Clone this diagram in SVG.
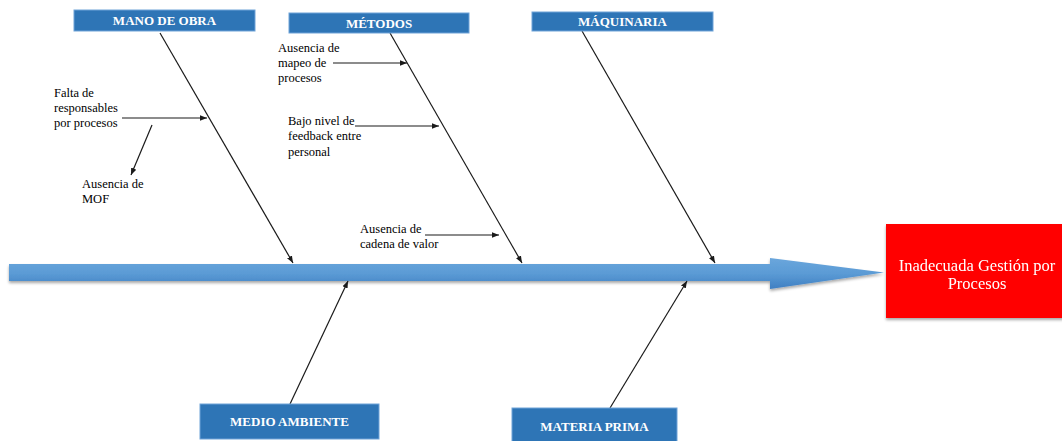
<svg xmlns="http://www.w3.org/2000/svg" width="1062" height="441" viewBox="0 0 1062 441">
  <style>
    .cat rect { fill: #2e75b6; stroke: #6fa3d8; stroke-width: 1; }
    .cat text { font-family: "Liberation Serif", "Times New Roman", serif; font-weight: bold; font-size: 13px; fill: #ffffff; text-anchor: middle; }
    .sub { font-family: "Liberation Serif", "Times New Roman", serif; font-size: 12.5px; fill: #000000; }
    .bone { stroke: #1a1a1a; stroke-width: 1.2; fill: none; marker-end: url(#tip); }
    .effect text { font-family: "Liberation Serif", "Times New Roman", serif; font-size: 16.5px; fill: #ffffff; text-anchor: middle; }
  </style>
  <defs>
    <marker id="tip" viewBox="0 0 10 10" refX="10" refY="5" markerWidth="7" markerHeight="7" orient="auto" markerUnits="userSpaceOnUse">
      <path d="M0,1 L10,5 L0,9 Z" fill="#1a1a1a"/>
    </marker>
    <linearGradient id="spineFill" x1="0" y1="0" x2="0" y2="1">
      <stop offset="0" stop-color="#6aa6dc"/>
      <stop offset="0.5" stop-color="#5b9bd5"/>
      <stop offset="1" stop-color="#3f7fc2"/>
    </linearGradient>
    <filter id="soft" x="-5%" y="-20%" width="110%" height="160%">
      <feGaussianBlur in="SourceAlpha" stdDeviation="1.5"/>
      <feOffset dx="0" dy="2" result="b"/>
      <feComponentTransfer><feFuncA type="linear" slope="0.35"/></feComponentTransfer>
      <feMerge><feMergeNode/><feMergeNode in="SourceGraphic"/></feMerge>
    </filter>
  </defs>

  <rect width="1062" height="441" fill="#ffffff"/>

  <!-- main spine -->
  <g id="spine" filter="url(#soft)">
    <path d="M9,264 L770,264 L770,258 L884,272.5 L770,289 L770,281 L9,281 Z" fill="url(#spineFill)"/>
  </g>

  <!-- effect -->
  <g id="effect" class="effect" filter="url(#soft)">
    <rect x="886" y="224" width="178" height="94" fill="#ff0000"/>
    <text x="977" y="271">Inadecuada Gestión por</text>
    <text x="977" y="289">Procesos</text>
  </g>

  <!-- connectors -->
  <g id="connectors">
    <line class="bone" x1="160" y1="33" x2="293" y2="263"/>
    <line class="bone" x1="390" y1="33" x2="522" y2="263"/>
    <line class="bone" x1="582" y1="31" x2="715" y2="263"/>
    <line class="bone" x1="290" y1="404" x2="348" y2="281"/>
    <line class="bone" x1="610" y1="408" x2="687" y2="281"/>
    <line class="bone" x1="122" y1="118" x2="207" y2="118"/>
    <line class="bone" x1="152" y1="125" x2="131" y2="175"/>
    <line class="bone" x1="333" y1="63" x2="407" y2="63"/>
    <line class="bone" x1="355" y1="126" x2="439" y2="126"/>
    <line class="bone" x1="425" y1="235" x2="499" y2="235"/>
  </g>

  <!-- categories -->
  <g id="mano-de-obra" class="cat">
    <rect x="74" y="10" width="181" height="21"/>
    <text x="164.5" y="25">MANO DE OBRA</text>
  </g>
  <g id="metodos" class="cat">
    <rect x="289" y="13" width="180" height="20"/>
    <text x="379" y="28">MÉTODOS</text>
  </g>
  <g id="maquinaria" class="cat">
    <rect x="532" y="12" width="181" height="19"/>
    <text x="622.5" y="26">MÁQUINARIA</text>
  </g>
  <g id="medio-ambiente" class="cat">
    <rect x="200" y="404" width="179" height="35"/>
    <text x="289.5" y="426">MEDIO AMBIENTE</text>
  </g>
  <g id="materia-prima" class="cat">
    <rect x="512" y="408" width="165" height="35"/>
    <text x="594.5" y="431">MATERIA PRIMA</text>
  </g>

  <!-- sub-causes -->
  <g id="falta-responsables">
    <text class="sub" x="54" y="97">Falta de</text>
    <text class="sub" x="54" y="112">responsables</text>
    <text class="sub" x="54" y="127">por procesos</text>
  </g>
  <g id="ausencia-mof">
    <text class="sub" x="82" y="188">Ausencia de</text>
    <text class="sub" x="82" y="203">MOF</text>
  </g>
  <g id="ausencia-mapeo">
    <text class="sub" x="278" y="52">Ausencia de</text>
    <text class="sub" x="278" y="67">mapeo de</text>
    <text class="sub" x="278" y="82">procesos</text>
  </g>
  <g id="bajo-feedback">
    <text class="sub" x="288" y="125">Bajo nivel de</text>
    <text class="sub" x="288" y="140">feedback entre</text>
    <text class="sub" x="288" y="156">personal</text>
  </g>
  <g id="ausencia-cadena">
    <text class="sub" x="360" y="233">Ausencia de</text>
    <text class="sub" x="360" y="248">cadena de valor</text>
  </g>
</svg>
